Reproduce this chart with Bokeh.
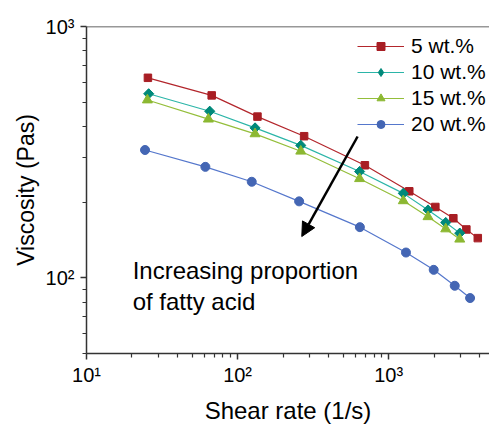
import numpy as np
from bokeh.plotting import figure
from bokeh.models import (Range1d, FixedTicker, Legend, LegendItem, Arrow, NormalHead,
                          Label, Span)
from bokeh.embed import file_html
from bokeh.resources import INLINE

# ---- data ----
x_5 = [25.5, 67.4, 135.4, 275.7, 696, 1369, 2037, 2680, 3268, 3890]
y_5 = [625, 532, 438, 366, 280.5, 221, 191.4, 172.6, 155.8, 143.9]

x_10 = [25.8, 65.4, 130.5, 262, 642, 1250, 1822, 2387, 2955]
y_10 = [540, 460, 395, 336.4, 264.8, 216.8, 186.2, 166, 150.6]

x_15 = [25.3, 64.1, 130.5, 262, 642, 1250, 1822, 2387, 2955]
y_15 = [510, 428, 374, 319, 248, 202.5, 175, 156.5, 142.5]

x_20 = [24.4, 61.2, 124.1, 255.5, 645, 1302, 1987, 2738, 3459]
y_20 = [322.6, 276.4, 241.1, 201.5, 159.1, 126.1, 107.6, 93.0, 83.1]

series_labels = ["5 wt.%", "10 wt.%", "15 wt.%", "20 wt.%"]
major_ticks = [10, 100, 1000]
tick_labels = {10: "10\u00b9", 100: "10\u00b2", 1000: "10\u00b3"}
minor_x = [m * d for d in (10, 100, 1000) for m in range(2, 10)]
minor_y = [m * d for d in (10, 100) for m in range(2, 10)]

FONT = "Liberation Sans"

p = figure(width=489, height=426, x_axis_type="log", y_axis_type="log",
           x_range=Range1d(10, 4650), y_range=Range1d(50, 1000),
           output_backend="svg", toolbar_location=None,
           min_border_left=86, min_border_right=0, min_border_top=26,
           min_border_bottom=71)
p.grid.visible = False
p.outline_line_color = None
p.background_fill_color = "white"

p.xaxis.ticker = FixedTicker(ticks=major_ticks, minor_ticks=minor_x)
p.yaxis.ticker = FixedTicker(ticks=major_ticks, minor_ticks=minor_y)
for ax in (p.xaxis, p.yaxis):
    ax.major_label_overrides = tick_labels
    ax.major_label_text_font = FONT
    ax.major_label_text_font_size = "20px"
    ax.major_label_text_color = "black"
    ax.axis_label_text_font = FONT
    ax.axis_label_text_font_style = "normal"
    ax.axis_label_text_color = "black"
    ax.axis_line_color = "#333333"
    ax.axis_line_width = 1.5
    ax.major_tick_line_color = "#333333"
    ax.minor_tick_line_color = "#333333"
    ax.major_tick_line_width = 1.5
    ax.minor_tick_line_width = 1.2
    ax.major_tick_out = 6
    ax.major_tick_in = 0
    ax.minor_tick_out = 4
    ax.minor_tick_in = 0
p.xaxis.axis_label = "Shear rate (1/s)"
p.yaxis.axis_label = "Viscosity (Pas)"
p.xaxis.axis_label_text_font_size = "24px"
p.yaxis.axis_label_text_font_size = "23px"
p.xaxis.major_label_standoff = 4
p.yaxis.major_label_standoff = 6
p.xaxis.axis_label_standoff = 8
p.yaxis.axis_label_standoff = 4

p.add_layout(Span(location=1000, dimension="width", line_color="#333333", line_width=1.5))

# (line colour, marker colour, plot marker, size, angle, legend marker)
styles = [
    (x_5, y_5, "#B3262C", "#A81E24", "square", 7.5, 0.0, "square"),
    (x_10, y_10, "#2BB5A8", "#00897A", "square", 7.2, np.pi / 4, "diamond"),
    (x_15, y_15, "#94BE3A", "#8CB832", "triangle", 10, 0.0, "triangle"),
    (x_20, y_20, "#5577CC", "#4466B4", "circle", 9, 0.0, "circle"),
]
items = []
for (xs, ys, lc, mc, mk, sz, ang, lmk), lab in zip(styles, series_labels):
    r1 = p.line(xs, ys, line_color=lc, line_width=1.2)
    if lmk != mk:
        # narrow diamond hidden beneath the rotated squares; used for the legend glyph
        r3 = p.scatter(xs, ys, marker=lmk, size=9.5, fill_color=mc, line_color=mc)
    r2 = p.scatter(xs, ys, marker=mk, size=sz, angle=ang, fill_color=mc, line_color=mc)
    items.append(LegendItem(label=lab, renderers=[r1, r3 if lmk != mk else r2]))

legend = Legend(items=items, location=(271, 217), border_line_color=None,
                background_fill_alpha=0, padding=0, margin=0, spacing=2,
                glyph_width=47, glyph_height=20, label_height=20,
                label_standoff=7, label_text_font=FONT,
                label_text_font_size="21px", label_text_color="black")
p.add_layout(legend, "center")

p.add_layout(Arrow(end=NormalHead(size=14, fill_color="black", line_color="black"),
                   x_start=623, y_start=365, x_end=266, y_end=146,
                   line_width=2.5, line_color="black"))

for txt, yy in (("Increasing proportion", 106.9), ("of fatty acid", 80.6)):
    p.add_layout(Label(x=20.2, y=yy, text=txt, text_font=FONT, text_font_size="24px",
                       text_color="black", text_baseline="alphabetic"))

open("out.html", "w").write(file_html(p, INLINE))
